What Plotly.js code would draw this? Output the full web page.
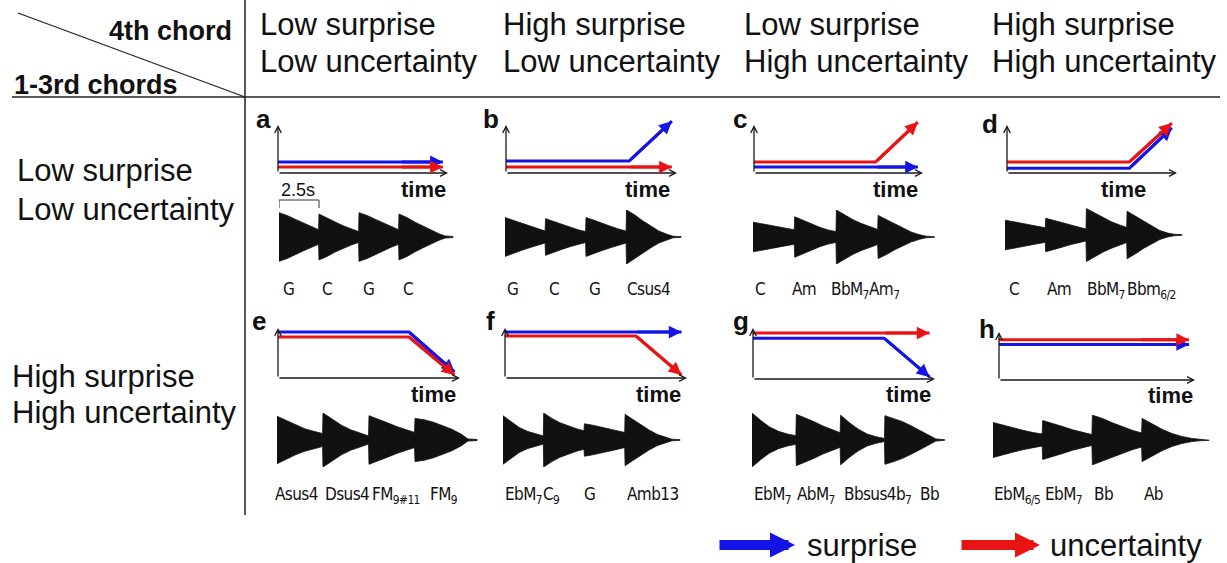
<!DOCTYPE html>
<html><head><meta charset="utf-8">
<script src="https://cdn.plot.ly/plotly-3.0.1.min.js"></script>
<style>html,body{margin:0;padding:0;background:#fff}#chart{width:1227px;height:563px}</style>
</head><body><div id="chart"></div>
<script>
// ---------------- data ----------------
const colHeaders = [['Low surprise','Low uncertainty'],['High surprise','Low uncertainty'],['Low surprise','High uncertainty'],['High surprise','High uncertainty']];
const rowHeaders = [['Low surprise','Low uncertainty'],['High surprise','High uncertainty']];
const panelLetters = ['a','b','c','d','e','f','g','h'];

// schematic time course (x: fraction of the time axis)
const lineTime = [0, 0.72, 0.97];
const surpriseA = [0.23, 0.23, 0.23];   const uncertaintyA = [0.125, 0.125, 0.125];
const surpriseB = [0.25, 0.25, 1.08];   const uncertaintyB = [0.125, 0.125, 0.125];
const surpriseC = [0.125, 0.125, 0.125]; const uncertaintyC = [0.23, 0.23, 1.06];
const surpriseD = [0.10, 0.10, 0.94];   const uncertaintyD = [0.23, 0.23, 1.04];
const surpriseE = [0.92, 0.92, 0.12];   const uncertaintyE = [0.82, 0.82, 0.06];
const surpriseF = [0.92, 0.92, 0.92];   const uncertaintyF = [0.84, 0.84, 0.06];
const surpriseG = [0.80, 0.80, 0.04];   const uncertaintyG = [0.90, 0.90, 0.90];
const surpriseH = [0.74, 0.74, 0.74];   const uncertaintyH = [0.84, 0.84, 0.84];

// waveform envelopes (time in chord units of 2.5 s, amplitude normalised)
const envTime = [0,0.2,0.4,0.6,0.8,0.99, 1,1.2,1.4,1.6,1.8,1.99, 2,2.2,2.4,2.6,2.8,2.99, 3,3.2,3.4,3.6,3.8,4.0, 4.15,4.35];
const envA = [0.90,0.80,0.66,0.52,0.38,0.27, 0.85,0.72,0.56,0.42,0.30,0.20, 0.90,0.80,0.66,0.52,0.38,0.27, 0.85,0.72,0.55,0.40,0.25,0.12, 0.04,0.02];
const envB = [0.72,0.62,0.50,0.40,0.30,0.22, 0.68,0.58,0.46,0.36,0.27,0.20, 0.72,0.62,0.50,0.40,0.30,0.22, 1.00,0.82,0.60,0.40,0.22,0.10, 0.03,0.01];
const envC = [0.55,0.50,0.44,0.38,0.32,0.27, 0.75,0.62,0.48,0.36,0.26,0.20, 1.00,0.82,0.64,0.50,0.38,0.28, 0.80,0.65,0.47,0.32,0.18,0.08, 0.03,0.01];
const envD = [0.55,0.50,0.44,0.38,0.32,0.27, 0.62,0.54,0.45,0.36,0.28,0.22, 0.98,0.82,0.64,0.50,0.38,0.28, 0.88,0.70,0.50,0.32,0.17,0.07, 0.03,0.01];
const envE = [0.88,0.72,0.55,0.42,0.32,0.24, 1.00,0.78,0.55,0.38,0.25,0.15, 0.90,0.78,0.64,0.50,0.38,0.28, 0.80,0.75,0.66,0.54,0.40,0.22, 0.04,0.02];
const envF = [0.90,0.68,0.46,0.32,0.22,0.15, 1.00,0.80,0.64,0.52,0.42,0.34, 0.60,0.55,0.48,0.42,0.35,0.28, 0.95,0.75,0.54,0.36,0.20,0.10, 0.03,0.01];
const envG = [1.00,0.72,0.48,0.32,0.22,0.16, 0.95,0.82,0.68,0.52,0.38,0.27, 0.92,0.64,0.40,0.22,0.12,0.06, 0.90,0.80,0.68,0.52,0.35,0.16, 0.04,0.01];
const envH = [0.65,0.55,0.45,0.36,0.28,0.22, 0.72,0.62,0.50,0.38,0.28,0.20, 0.92,0.80,0.64,0.50,0.36,0.26, 0.80,0.60,0.40,0.24,0.13,0.06, 0.03,0.01];

// chord names
const chordsA = ['G','C','G','C'];
const chordsB = ['G','C','G','Csus4'];
const chordsC = ['C','Am','BbM<sub>7</sub>','Am<sub>7</sub>'];
const chordsD = ['C','Am','BbM<sub>7</sub>','Bbm<sub>6/2</sub>'];
const chordsE = ['Asus4','Dsus4','FM<sub>9#11</sub>','FM<sub>9</sub>'];
const chordsF = ['EbM<sub>7</sub>','C<sub>9</sub>','G','Amb13'];
const chordsG = ['EbM<sub>7</sub>','AbM<sub>7</sub>','Bbsus4b<sub>7</sub>','Bb'];
const chordsH = ['EbM<sub>6/5</sub>','EbM<sub>7</sub>','Bb','Ab'];

const legendNames = ['surprise', 'uncertainty'];

// ---------------- layout geometry (pixels) ----------------
const W = 1227, H = 563;
const FONT = 'Liberation Sans, Arial, Helvetica, sans-serif';
const NARROW = "'Liberation Sans Narrow', 'Arial Narrow', 'DejaVu Sans Condensed', 'Liberation Sans', sans-serif";
const BLUE = '#1414e6', RED = '#e81414', INK = '#111111';
const px = v => v / W, py = v => 1 - v / H;

const panels = [
  {s:surpriseA,u:uncertaintyA,env:envA,ch:chordsA, ox:278,oy:173,w:170,h:48, wx:279,wu:40,  wy:237, let:[263,119], time:[448,190], labX:[281,320,361,401], labTop:277},
  {s:surpriseB,u:uncertaintyB,env:envB,ch:chordsB, ox:506,oy:173,w:171,h:48, wx:505,wu:40.5,wy:237, let:[491,119], time:[672,190], labX:[505,547,587,625], labTop:277},
  {s:surpriseC,u:uncertaintyC,env:envC,ch:chordsC, ox:754,oy:173,w:169,h:48, wx:753,wu:41.7,wy:237, let:[740,119], time:[920,190], labX:[753,790,829,867], labTop:277},
  {s:surpriseD,u:uncertaintyD,env:envD,ch:chordsD, ox:1007,oy:173,w:170,h:48, wx:1005,wu:40.7,wy:235, let:[990,124], time:[1148,190], labX:[1007,1045,1085,1125], labTop:277},
  {s:surpriseE,u:uncertaintyE,env:envE,ch:chordsE, ox:278,oy:378,w:182,h:50, wx:277,wu:46,  wy:440, let:[259,321], time:[458,394], labX:[273,323,370,428], labTop:482},
  {s:surpriseF,u:uncertaintyF,env:envF,ch:chordsF, ox:505,oy:378,w:182,h:50, wx:503,wu:40.7,wy:440, let:[490,321], time:[683,394], labX:[503,541,582,625], labTop:482},
  {s:surpriseG,u:uncertaintyG,env:envG,ch:chordsG, ox:753,oy:379,w:182,h:51, wx:752,wu:44.3,wy:440, let:[741,321], time:[933,394], labX:[752,795,842,918], labTop:482},
  {s:surpriseH,u:uncertaintyH,env:envH,ch:chordsH, ox:999,oy:380,w:196,h:48, wx:993,wu:49.7,wy:440, let:[987,329], time:[1195,395], labX:[992,1043,1092,1142], labTop:482},
];

const traces = [], annotations = [], shapes = [];
const layout = {
  width: W, height: H, margin: {l:0, r:0, t:0, b:0},
  paper_bgcolor: '#ffffff', plot_bgcolor: 'rgba(0,0,0,0)',
  showlegend: false, font: {family: FONT, color: INK},
};

function txt(text, x, y, size, opts) {
  return Object.assign({xref:'paper', yref:'paper', x: px(x), y: py(y), text: text, showarrow: false,
    font: {family: FONT, size: size, color: INK}, xanchor: 'left', yanchor: 'middle'}, opts || {});
}

const XR_L = [-0.05, 1.1], YR_L = [-0.1, 1.15], XR_W = [0, 4.4], AMP = 27;

panels.forEach((p, i) => {
  const nL = 2 * i + 1, nW = 2 * i + 2;
  const xl = nL === 1 ? 'x' : 'x' + nL, yl = nL === 1 ? 'y' : 'y' + nL;
  const xw = 'x' + nW, yw = 'y' + nW;
  const axKey = (a, n) => (n === 1 ? a + 'axis' : a + 'axis' + n);
  const base = {visible: false, fixedrange: true, showgrid: false, zeroline: false};
  layout[axKey('x', nL)] = Object.assign({}, base, {range: XR_L, anchor: yl,
    domain: [px(p.ox + XR_L[0] * p.w), px(p.ox + XR_L[1] * p.w)]});
  layout[axKey('y', nL)] = Object.assign({}, base, {range: YR_L, anchor: xl,
    domain: [py(p.oy - YR_L[0] * p.h), py(p.oy - YR_L[1] * p.h)]});
  layout[axKey('x', nW)] = Object.assign({}, base, {range: XR_W, anchor: yw,
    domain: [px(p.wx), px(p.wx + XR_W[1] * p.wu)]});
  layout[axKey('y', nW)] = Object.assign({}, base, {range: [-1, 1], anchor: xw,
    domain: [py(p.wy + AMP), py(p.wy - AMP)]});

  // waveform polygon
  const upX = envTime.slice(), upY = p.env.slice();
  const loX = envTime.slice().reverse(), loY = p.env.map(v => -v).reverse();
  traces.push({type: 'scatter', mode: 'lines', xaxis: xw, yaxis: yw,
    x: upX.concat(loX), y: upY.concat(loY), fill: 'toself', fillcolor: INK,
    line: {color: INK, width: 0.8}, hoverinfo: 'skip'});

  // schematic lines
  [[p.s, BLUE], [p.u, RED]].forEach(([ys, col]) => {
    traces.push({type: 'scatter', mode: 'lines', xaxis: xl, yaxis: yl, x: lineTime, y: ys,
      line: {color: col, width: 3}, hoverinfo: 'skip'});
  });
  // axis arrows
  [[1, 0], [0, 1]].forEach(([tx, ty]) => {
    annotations.push({xref: xl, yref: yl, axref: xl, ayref: yl, x: tx, y: ty, ax: 0, ay: 0,
      text: '', showarrow: true, arrowhead: 5, arrowwidth: 1.3, arrowsize: 1, arrowcolor: '#1a1a1a'});
  });
  // series arrowheads
  [[p.s, BLUE], [p.u, RED]].forEach(([ys, col]) => {
    const k = lineTime.length - 1;
    annotations.push({xref: xl, yref: yl, axref: xl, ayref: yl, x: lineTime[k], y: ys[k],
      ax: lineTime[k - 1], ay: ys[k - 1], text: '', showarrow: true, arrowhead: 2,
      arrowwidth: 3, arrowsize: 0.85, arrowcolor: col});
  });
  annotations.push(txt('<b>' + panelLetters[i] + '</b>', p.let[0], p.let[1], 26, {xanchor: 'center'}));
  annotations.push(txt('<b>time</b>', p.time[0], p.time[1], 22, {xanchor: 'right'}));
  p.ch.forEach((c, j) => {
    annotations.push(txt('<span style="letter-spacing:-0.6px">' + c + '</span>', p.labX[j], p.labTop, 17,
      {yanchor: 'top', font: {family: NARROW, size: 17, color: INK}}));
  });
});

// 2.5 s scale bracket on panel a's waveform axis (one chord)
shapes.push({type: 'path', xref: 'x2', yref: 'paper',
  path: 'M 0,' + py(208) + ' L 0,' + py(200) + ' L 1,' + py(200) + ' L 1,' + py(208),
  line: {color: '#333', width: 1}});
annotations.push(txt('2.5s', 298, 190, 18, {xanchor: 'center'}));

// table lines
shapes.push({type: 'line', xref: 'paper', yref: 'paper', x0: px(12), x1: px(1220), y0: py(97), y1: py(97), line: {color: '#222', width: 1.5}});
shapes.push({type: 'line', xref: 'paper', yref: 'paper', x0: px(245), x1: px(245), y0: py(0), y1: py(515), line: {color: '#222', width: 1.5}});
shapes.push({type: 'line', xref: 'paper', yref: 'paper', x0: px(18), x1: px(245), y0: py(13), y1: py(97), line: {color: '#222', width: 1.3}});

// headers
annotations.push(txt('<b>4th chord</b>', 234, 31, 27, {xanchor: 'right'}));
annotations.push(txt('<b>1-3rd chords</b>', 12, 85, 27));
const colX = [258, 501, 742, 990];
colHeaders.forEach((c, j) => {
  annotations.push(txt(c[0], colX[j], 24, 31));
  annotations.push(txt(c[1], colX[j], 61, 31));
});
const rowY = [[171, 209], [376, 412]], rowX = [[15, 15], [10, 10]];
rowHeaders.forEach((r, j) => {
  annotations.push(txt(r[0], rowX[j][0], rowY[j][0], 31));
  annotations.push(txt(r[1], rowX[j][1], rowY[j][1], 31));
});

// legend (fat arrows + text)
[[BLUE, 718, 795, 805], [RED, 960, 1040, 1048]].forEach(([col, x0, x1, tx], j) => {
  annotations.push({xref: 'paper', yref: 'paper', x: px(x1), y: py(545), ax: -(x1 - x0), ay: 0,
    text: '', showarrow: true, arrowhead: 2, arrowwidth: 10, arrowsize: 0.5, arrowcolor: col});
  annotations.push(txt(legendNames[j], tx, 545, 31));
});

layout.annotations = annotations;
layout.shapes = shapes;
Plotly.newPlot('chart', traces, layout, {staticPlot: true, displayModeBar: false});
</script></body></html>
